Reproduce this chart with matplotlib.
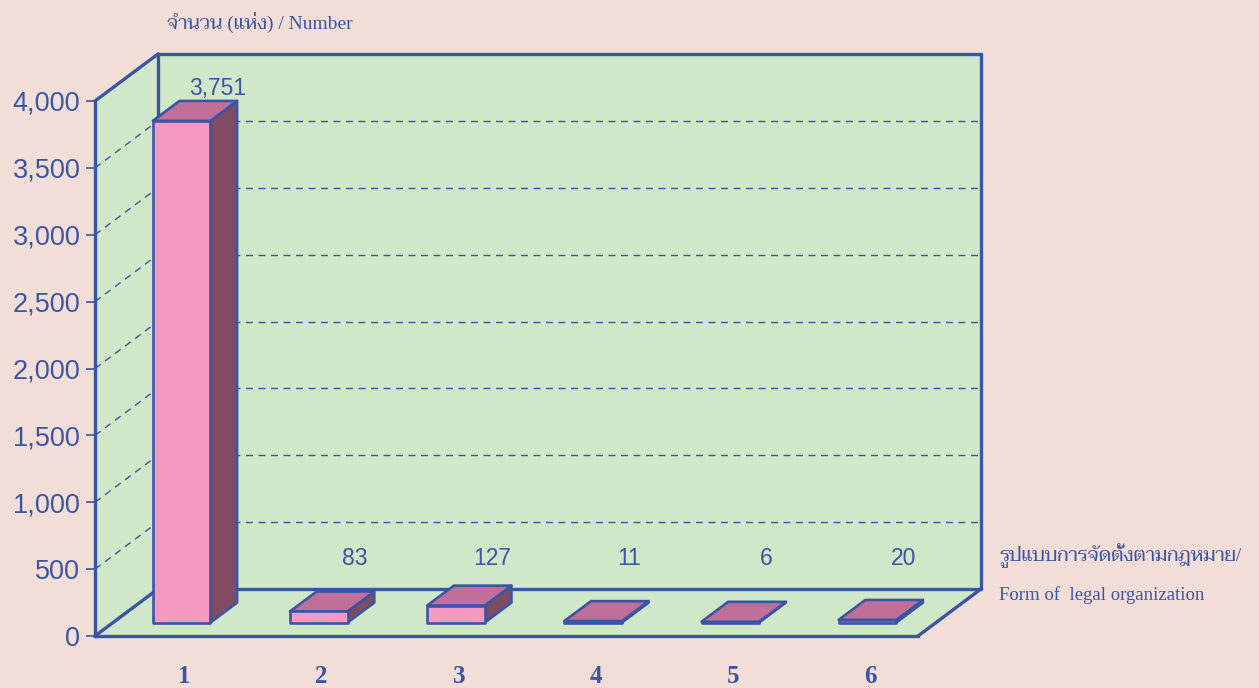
import matplotlib
matplotlib.use("Agg")
import matplotlib.pyplot as plt
from matplotlib.patches import Polygon
from matplotlib import font_manager
from matplotlib.ticker import FuncFormatter

# Data
categories = ["1", "2", "3", "4", "5", "6"]
values = [3751, 83, 127, 11, 6, 20]
y_ticks = [0, 500, 1000, 1500, 2000, 2500, 3000, 3500, 4000]

y_title = "จำนวน (แห่ง) / Number"
x_title_th = "รูปแบบการจัดตั้งตามกฎหมาย/"
x_title_en = "Form of  legal organization"

# colours
BG = "#f2ded6"
WALL = "#d0e8c8"
BLUE = "#3b55a6"
FRONT = "#f49ac2"
TOP = "#c07098"
SIDE = "#804c64"

# pseudo-3d depth vector in data units (x categories, y values)
DX = 0.459
DY = 351.4
BAR_W = 0.42
D_FRONT = 0.287
D_BACK = 0.71

XMIN, XMAX = 0.5, 6.5
YMAX = 4000


def pick_thai_font():
    names = {f.name for f in font_manager.fontManager.ttflist}
    for cand in ["Taviraj", "Trirong", "Noto Serif Thai", "Sarabun", "Charmonman", "Athiti"]:
        if cand in names:
            return cand
    return "DejaVu Sans"


THAI = pick_thai_font()
SERIF = ["Liberation Serif", THAI]


def proj(x, y, d):
    return (x + d * DX, y + d * DY)


def poly(ax, pts, fc, ec=BLUE, lw=2.0, z=1):
    p = Polygon([proj(*p) for p in pts], closed=True, facecolor=fc, edgecolor=ec,
                linewidth=lw, clip_on=False, zorder=z, joinstyle="round")
    ax.add_patch(p)


def line3d(ax, a, b, **kw):
    pa, pb = proj(*a), proj(*b)
    ax.plot([pa[0], pb[0]], [pa[1], pb[1]], clip_on=False, **kw)


fig = plt.figure(figsize=(12.59, 6.88), dpi=100, facecolor=BG)
ax = fig.add_axes([95 / 1259, 52 / 688, 823 / 1259, 535 / 688])
ax.set_facecolor("none")
ax.set_xlim(XMIN, XMAX)
ax.set_ylim(0, YMAX)

# walls: back, side, floor
poly(ax, [(XMIN, 0, 1), (XMAX, 0, 1), (XMAX, YMAX, 1), (XMIN, YMAX, 1)], WALL, ec="none", z=0.5)
poly(ax, [(XMIN, 0, 0), (XMIN, YMAX, 0), (XMIN, YMAX, 1), (XMIN, 0, 1)], WALL, ec="none", z=0.5)
poly(ax, [(XMIN, 0, 0), (XMAX, 0, 0), (XMAX, 0, 1), (XMIN, 0, 1)], WALL, ec="none", z=0.5)

# dashed gridlines on side and back wall
for v in y_ticks[1:-1]:
    line3d(ax, (XMIN, v, 0), (XMIN, v, 1), color=BLUE, lw=1.0, ls=(0, (5, 4)), zorder=1)
    line3d(ax, (XMIN, v, 1), (XMAX, v, 1), color=BLUE, lw=1.0, ls=(0, (5, 4)), zorder=1)

# solid wall edges
edge = dict(color=BLUE, lw=2.4, zorder=2, solid_capstyle="round")
line3d(ax, (XMIN, 0, 1), (XMAX, 0, 1), **edge)
line3d(ax, (XMIN, YMAX, 1), (XMAX, YMAX, 1), **edge)
line3d(ax, (XMIN, 0, 1), (XMIN, YMAX, 1), **edge)
line3d(ax, (XMAX, 0, 1), (XMAX, YMAX, 1), **edge)
line3d(ax, (XMAX, 0, 0), (XMAX, 0, 1), **edge)
line3d(ax, (XMIN, 0, 0), (XMIN, 0, 1), **edge)
line3d(ax, (XMIN, YMAX, 0), (XMIN, YMAX, 1), **edge)

# bars
for i, v in enumerate(values):
    xc = i + 1
    xl, xr = xc - BAR_W / 2, xc + BAR_W / 2
    poly(ax, [(xr, 0, D_FRONT), (xr, v, D_FRONT), (xr, v, D_BACK), (xr, 0, D_BACK)], SIDE, lw=1.9, z=3)
    poly(ax, [(xl, v, D_FRONT), (xr, v, D_FRONT), (xr, v, D_BACK), (xl, v, D_BACK)], TOP, lw=1.9, z=3)
    poly(ax, [(xl, 0, D_FRONT), (xr, 0, D_FRONT), (xr, v, D_FRONT), (xl, v, D_FRONT)], FRONT, lw=1.9, z=3)

    # value label sits up and to the right of the bar front, with a floor for small bars
    lx, ly = proj(xc + 0.262, max(v, 230) + 346 - D_FRONT * DY, D_FRONT)
    ax.text(lx, ly, f"{v:,}", ha="center", va="center", fontsize=16.5,
            family="Liberation Sans", color=BLUE, zorder=5, clip_on=False)

# axes styling
for s in ["top", "right"]:
    ax.spines[s].set_visible(False)
for s in ["left", "bottom"]:
    ax.spines[s].set_color(BLUE)
    ax.spines[s].set_linewidth(2.4)
    ax.spines[s].set_zorder(2)

ax.set_yticks(y_ticks)
ax.yaxis.set_major_formatter(FuncFormatter(lambda v, p: f"{int(v):,}"))
ax.tick_params(axis="y", direction="out", length=6.5, width=1.2, color=BLUE,
               labelcolor=BLUE, labelsize=19.5, pad=4)
for lab in ax.get_yticklabels():
    lab.set_family("Liberation Sans")

ax.set_xticks([i + 1 + D_FRONT * DX + 0.02 for i in range(len(categories))])
ax.set_xticklabels(categories, fontsize=18, fontweight="bold", family="Liberation Serif", color=BLUE)
ax.tick_params(axis="x", length=0, pad=21)

# axis titles
fig.text(167 / 1259, 1 - 22 / 688, y_title, ha="left", va="center", fontsize=14,
         family=SERIF, color=BLUE)
fig.text(999 / 1259, 1 - 556 / 688, x_title_th, ha="left", va="center", fontsize=14,
         family=SERIF, color=BLUE)
fig.text(999 / 1259, 1 - 595 / 688, x_title_en, ha="left", va="center", fontsize=13.5,
         family=SERIF, color=BLUE)

fig.savefig("out.png", dpi=100, facecolor=BG)
